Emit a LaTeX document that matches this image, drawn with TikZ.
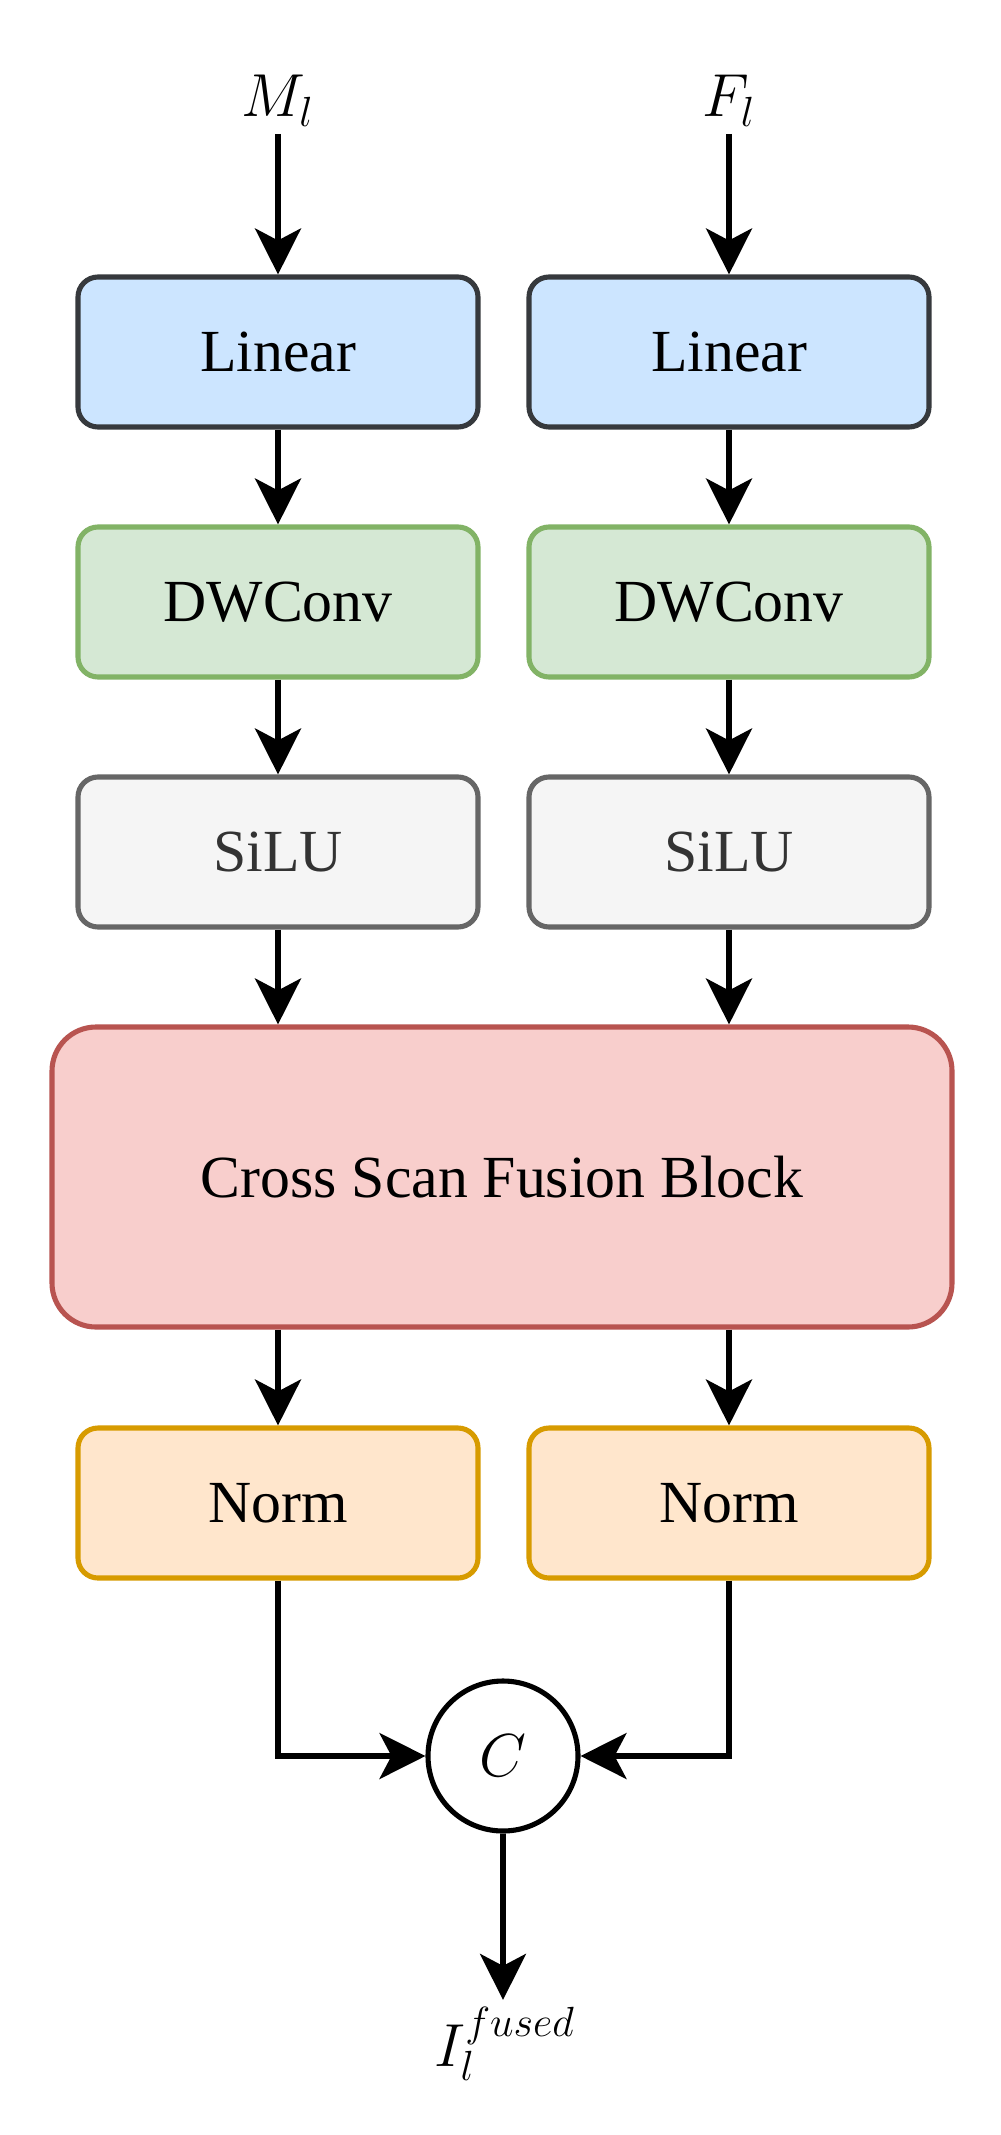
\documentclass[tikz,border=0pt]{standalone}
\usepackage{fontspec}
\setmainfont{Liberation Serif}
\usetikzlibrary{arrows.meta,positioning}
\definecolor{CSLinFill}{HTML}{CCE5FF}
\definecolor{CSLinLine}{HTML}{36393D}
\definecolor{CSConvFill}{HTML}{D5E8D4}
\definecolor{CSConvLine}{HTML}{82B366}
\definecolor{CSActFill}{HTML}{F5F5F5}
\definecolor{CSActLine}{HTML}{666666}
\definecolor{CSActText}{HTML}{333333}
\definecolor{CSFuseFill}{HTML}{F8CECC}
\definecolor{CSFuseLine}{HTML}{B85450}
\definecolor{CSNormFill}{HTML}{FFE6CC}
\definecolor{CSNormLine}{HTML}{D79B00}
\tikzset{
  flow/.style={-{Stealth[length=4.6mm,width=4.6mm,inset=1.2mm]},black,line width=1.45pt},
  block/.style={draw=CSLinLine,line width=1.45pt,fill=CSLinFill,rounded corners=2mm,
               minimum width=4cm,minimum height=1.5cm,text=black,align=center,
               font=\fontsize{17}{20}\selectfont},
  blockconv/.style={block,draw=CSConvLine,fill=CSConvFill},
  blockact/.style={block,draw=CSActLine,fill=CSActFill,text=CSActText},
  blocknorm/.style={block,draw=CSNormLine,fill=CSNormFill},
  blockfuse/.style={block,draw=CSFuseLine,fill=CSFuseFill,rounded corners=4.4mm,
                    minimum width=9cm,minimum height=3cm},
  catnode/.style={circle,draw=black,line width=1.45pt,fill=white,minimum size=1.5cm,
                  inner sep=0pt,font=\fontsize{17}{20}\selectfont},
  mathlabel/.style={font=\fontsize{17.5}{20}\selectfont,inner sep=2pt,anchor=base},
}

\begin{document}
\begin{tikzpicture}[x=0.1mm,y=-0.1mm]
    \path[use as bounding box,fill=white] (0,0) rectangle (1000,2135);

    \node[mathlabel] (inM) at (278,117) {$M_l$};
    \node[mathlabel] (inF) at (729,117) {$F_l$};

    \node[block] (linM) at (278,352) {Linear};
    \node[block] (linF) at (729,352) {Linear};
    \node[blockconv] (convM) at (278,602) {DWConv};
    \node[blockconv] (convF) at (729,602) {DWConv};
    \node[blockact] (actM) at (278,852) {SiLU};
    \node[blockact] (actF) at (729,852) {SiLU};

    \node[blockfuse] (fuse) at (502,1177) {Cross Scan Fusion Block};

    \node[blocknorm] (normM) at (278,1503) {Norm};
    \node[blocknorm] (normF) at (729,1503) {Norm};

    \node[catnode] (cat) at (503,1756) {$C$};
    \node[mathlabel] (outI) at (505,2066) {$I_l^{fused}$};

    \draw[flow] (linM.north |- inM.south) -- (linM.north);
    \draw[flow] (linF.north |- inF.south) -- (linF.north);
    \draw[flow] (linM) -- (convM);
    \draw[flow] (linF) -- (convF);
    \draw[flow] (convM) -- (actM);
    \draw[flow] (convF) -- (actF);
    \draw[flow] (actM) -- (actM |- fuse.north);
    \draw[flow] (actF) -- (actF |- fuse.north);
    \draw[flow] (normM |- fuse.south) -- (normM);
    \draw[flow] (normF |- fuse.south) -- (normF);
    \draw[flow] (normM.south) |- (cat.west);
    \draw[flow] (normF.south) |- (cat.east);
    \draw[flow] (cat.south) -- (cat.south |- outI.north);
  \end{tikzpicture}
\end{document}
